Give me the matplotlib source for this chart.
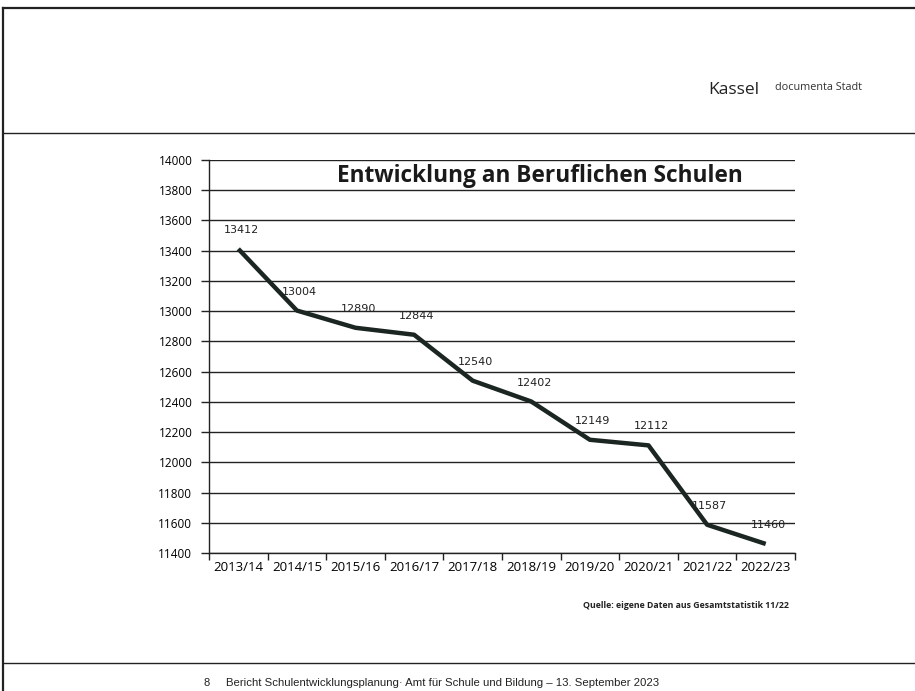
import matplotlib
matplotlib.use("Agg")
import matplotlib.pyplot as plt
from matplotlib.lines import Line2D

years = ["2013/14", "2014/15", "2015/16", "2016/17", "2017/18",
         "2018/19", "2019/20", "2020/21", "2021/22", "2022/23"]
students = [13412, 13004, 12890, 12844, 12540, 12402, 12149, 12112, 11587, 11460]
y_ticks = list(range(11400, 14001, 200))

title = "Entwicklung an Beruflichen Schulen"
source = "Quelle: eigene Daten aus Gesamtstatistik 11/22"
footer = "Bericht Schulentwicklungsplanung· Amt für Schule und Bildung – 13. September 2023"

W, H = 915, 691
fig = plt.figure(figsize=(W / 100, H / 100), dpi=100)
fig.patch.set_facecolor("white")

def fx(px):
    return px / W

def fy(py):
    return 1 - py / H

# page decorations
pc = "#222222"
fig.add_artist(Line2D([fx(3), fx(3)], [fy(8), fy(691)], color=pc, lw=1.6, transform=fig.transFigure))
fig.add_artist(Line2D([fx(3), 1], [fy(8), fy(8)], color=pc, lw=1.6, transform=fig.transFigure))
fig.add_artist(Line2D([fx(3), 1], [fy(133), fy(133)], color=pc, lw=1.0, transform=fig.transFigure))
fig.add_artist(Line2D([fx(3), 1], [fy(663), fy(663)], color=pc, lw=1.0, transform=fig.transFigure))
fig.text(fx(708), fy(90), "Kassel", fontsize=12.5, family="Open Sans", color="#222222", va="center", ha="left")
fig.text(fx(775), fy(88), "documenta Stadt", fontsize=7.8, family="Open Sans", color="#333333", va="center", ha="left")
fig.text(fx(204), fy(683), "8", fontsize=8, family="Liberation Sans", color="#222222", va="center", ha="left")
fig.text(fx(226), fy(683), footer, fontsize=8.2, family="Liberation Sans", color="#222222", va="center", ha="left")

# chart axes
left, right, top, bottom = 209, 795, 160, 553
ax = fig.add_axes([fx(left), fy(bottom), fx(right - left), (bottom - top) / H])
ax.set_facecolor("none")
x = list(range(len(years)))
ax.plot(x, students, color="#1b2622", lw=3.2, solid_capstyle="butt", solid_joinstyle="round", zorder=3)
for xi, v in zip(x, students):
    ax.annotate(str(v), (xi, v), xytext=(2, 10), textcoords="offset points",
                ha="center", va="bottom", fontsize=8, family="DejaVu Sans", color="#222222")

ax.set_xlim(-0.5, len(years) - 0.5)
ax.set_ylim(11400, 14000)
ax.set_yticks(y_ticks)
ax.set_yticklabels([str(t) for t in y_ticks], fontsize=8.5, family="Open Sans")
ax.set_xticks(x)
ax.set_xticklabels(years, fontsize=9.5, family="Open Sans")
ax.set_xticks([i - 0.5 for i in range(len(years) + 1)], minor=True)
ax.tick_params(axis="x", which="major", length=0, pad=6)
ax.tick_params(axis="x", which="minor", length=5, width=1, direction="out", color="#222222")
ax.tick_params(axis="y", length=6, width=1, direction="out", color="#222222", pad=6)
ax.grid(axis="y", color="#222222", lw=1.0)
ax.set_axisbelow(True)
for s in ["top", "right"]:
    ax.spines[s].set_visible(False)
for s in ["left", "bottom"]:
    ax.spines[s].set_color("#222222")
    ax.spines[s].set_linewidth(1.0)

fig.text(fx(540), fy(176), title, fontsize=16.3, fontweight="bold", family="Open Sans",
         color="#1a1a1a", ha="center", va="center")
fig.text(fx(686), fy(605), source, fontsize=6.35, fontweight="bold", family="Open Sans",
         color="#222222", ha="center", va="center")

fig.savefig("out.png", dpi=100)
